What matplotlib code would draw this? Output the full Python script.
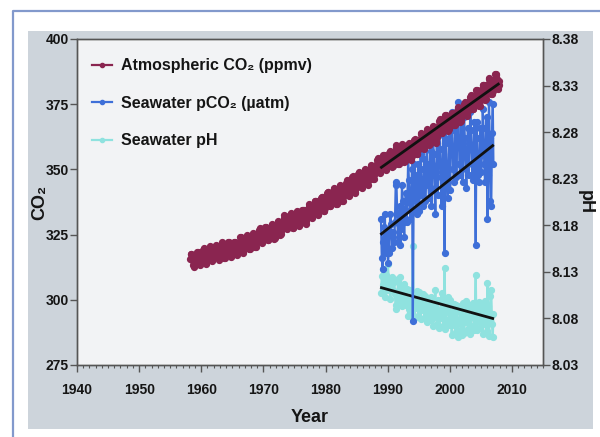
import numpy as np
import matplotlib
matplotlib.use("Agg")
import matplotlib.pyplot as plt
from matplotlib.patches import Rectangle
from matplotlib.lines import Line2D
from matplotlib.ticker import MultipleLocator, FixedLocator, FormatStrFormatter

plt.rcParams['font.family'] = ['Liberation Sans', 'DejaVu Sans']

# ---------------- data ----------------
# Atmospheric CO2 (Mauna Loa), monthly, starting March 1958
atm_start_year = 1958
atm_start_month = 3
atm_co2 = [
    315.7, 317.5, 317.5, 317.2, 315.9, 314.9, 313.2, 312.7, 313.3, 314.7,
    315.6, 316.4, 316.7, 317.7, 318.3, 318.2, 316.5, 314.8, 313.8, 313.3, 314.8, 315.6,
    316.4, 317.0, 317.6, 319.0, 320.0, 319.6, 318.2, 315.9, 314.2, 313.8, 315.0, 316.2,
    316.9, 317.7, 318.5, 319.5, 320.6, 319.8, 318.6, 316.8, 314.8, 315.4, 316.1, 317.0,
    317.9, 318.6, 319.7, 320.6, 321.0, 320.6, 319.6, 317.4, 316.3, 315.4, 316.7, 317.7,
    318.7, 319.1, 319.9, 321.4, 322.2, 321.5, 319.7, 317.8, 316.2, 316.0, 317.1, 318.3,
    319.6, 320.1, 320.8, 321.9, 322.3, 322.1, 320.3, 318.4, 316.8, 316.6, 317.6, 318.8,
    319.4, 320.4, 320.9, 322.1, 322.2, 321.9, 321.4, 318.8, 317.8, 317.3, 318.9, 319.4,
    320.6, 321.6, 322.4, 323.9, 324.0, 323.8, 322.4, 320.4, 318.6, 318.1, 319.8, 321.1,
    322.1, 322.5, 323.0, 324.4, 325.0, 324.1, 322.6, 320.9, 319.3, 319.3, 320.7, 322.0,
    322.6, 323.2, 323.9, 325.0, 325.6, 325.4, 324.1, 322.1, 320.3, 320.3, 321.3, 322.9,
    324.0, 324.4, 325.6, 326.7, 327.4, 326.7, 325.9, 323.7, 322.4, 321.8, 322.9, 324.1,
    325.1, 326.0, 326.9, 328.1, 328.1, 327.7, 326.4, 324.7, 323.1, 323.1, 324.0, 325.1,
    326.2, 326.7, 327.2, 327.8, 328.9, 328.6, 327.3, 325.5, 323.4, 323.6, 324.8, 326.0,
    326.8, 327.6, 327.8, 329.7, 330.1, 329.1, 328.1, 326.3, 324.9, 325.1, 326.5, 327.6,
    328.5, 329.6, 330.3, 331.5, 332.5, 332.1, 330.9, 329.3, 327.5, 327.2, 328.2, 328.6,
    329.4, 330.7, 331.5, 332.7, 333.1, 332.3, 331.2, 329.4, 327.4, 327.4, 328.5, 329.6,
    330.4, 331.4, 332.0, 333.3, 334.0, 333.6, 331.9, 330.1, 328.6, 328.3, 329.5, 330.8,
    331.8, 332.6, 333.5, 334.6, 334.6, 334.3, 333.1, 330.9, 329.3, 328.9, 330.3, 331.7,
    332.9, 333.4, 334.7, 336.1, 336.7, 336.3, 334.9, 332.8, 331.6, 331.2, 332.4, 333.9,
    335.0, 335.4, 336.6, 337.8, 338.0, 337.9, 336.5, 334.7, 332.8, 332.5, 333.9, 335.0,
    336.2, 336.8, 338.0, 338.9, 339.5, 339.3, 337.7, 336.1, 333.9, 333.9, 335.3, 336.7,
    338.0, 338.4, 340.1, 340.8, 341.5, 341.2, 339.6, 337.6, 335.9, 336.0, 337.1, 338.2,
    339.2, 340.5, 341.4, 342.5, 342.9, 342.3, 340.5, 338.4, 336.7, 336.9, 338.4, 339.6,
    340.8, 341.6, 342.7, 343.6, 344.1, 343.4, 342.1, 339.8, 338.0, 337.9, 339.3, 340.5,
    341.4, 342.5, 343.1, 344.9, 345.8, 345.3, 344.0, 342.4, 339.9, 340.0, 341.2, 343.0,
    343.7, 344.5, 345.3, 347.1, 347.4, 346.8, 345.4, 343.3, 341.1, 341.4, 343.0, 344.2,
    345.0, 346.0, 347.4, 348.4, 348.9, 348.3, 346.6, 344.7, 343.1, 342.8, 344.2, 345.6,
    346.3, 347.0, 347.9, 349.6, 350.2, 349.5, 347.9, 345.9, 344.9, 344.2, 345.7, 346.9,
    348.0, 348.5, 349.4, 351.0, 351.8, 351.3, 349.5, 348.1, 346.4, 346.4, 347.8, 349.0,
    350.4, 351.7, 352.2, 353.6, 354.2, 353.8, 352.4, 350.4, 348.7, 348.9, 350.1, 351.3,
    352.8, 353.1, 353.7, 355.4, 355.7, 355.1, 353.9, 351.7, 349.8, 350.0, 351.3, 352.5,
    353.7, 354.7, 355.4, 356.2, 357.2, 356.2, 354.8, 352.9, 351.0, 351.2, 352.8, 354.2,
    354.7, 355.8, 357.2, 358.6, 359.3, 358.2, 356.2, 354.0, 352.2, 352.2, 353.8, 355.0,
    356.0, 356.7, 357.8, 359.2, 359.7, 359.3, 357.0, 355.0, 353.0, 353.3, 354.2, 355.4,
    356.7, 357.2, 358.4, 359.5, 360.3, 359.6, 357.6, 355.5, 353.7, 354.0, 355.3, 356.8,
    358.4, 358.9, 360.0, 361.3, 361.7, 361.0, 359.6, 357.5, 355.8, 356.0, 357.6, 359.1,
    360.0, 361.0, 361.7, 363.5, 363.8, 363.3, 361.9, 359.5, 358.1, 357.8, 359.6, 360.7,
    362.1, 363.3, 364.1, 364.8, 365.5, 365.0, 363.7, 361.5, 359.5, 359.7, 360.8, 362.4,
    363.2, 364.1, 364.6, 366.4, 366.8, 365.7, 364.5, 362.6, 360.2, 360.8, 362.5, 364.3,
    365.3, 366.0, 367.2, 368.7, 369.4, 369.0, 367.8, 366.0, 364.0, 364.4, 365.5, 367.1,
    368.2, 369.1, 369.7, 371.0, 371.0, 370.3, 369.5, 366.9, 364.8, 365.4, 366.7, 368.1,
    369.3, 369.5, 370.6, 371.8, 371.6, 371.7, 369.9, 368.1, 367.0, 367.0, 368.4, 369.7,
    370.6, 371.5, 372.4, 373.4, 373.9, 373.2, 371.5, 369.6, 368.2, 368.5, 369.8, 371.2,
    372.5, 373.2, 374.1, 375.0, 375.8, 375.5, 374.0, 371.9, 370.8, 370.6, 372.3, 373.8,
    374.9, 375.6, 376.5, 377.7, 378.6, 378.3, 376.7, 374.4, 373.2, 373.2, 374.7, 376.0,
    377.0, 377.9, 378.9, 380.4, 380.6, 379.7, 377.5, 376.0, 374.3, 374.5, 376.2, 377.5,
    378.5, 379.7, 380.8, 382.3, 382.5, 382.2, 380.7, 378.7, 376.7, 377.0, 378.4, 380.1,
    381.4, 382.2, 382.7, 384.6, 385.0, 384.1, 382.5, 380.4, 378.9, 379.1, 380.2, 381.8,
    382.9, 383.9, 384.6, 386.5, 386.6, 386.1, 384.5, 382.0, 381.0, 381.1, 382.5, 384.0,
]

# Station ALOHA cruises: time, seawater pCO2 (uatm), seawater pH
hot_year = [
    1988.92,
    1989.05, 1989.17, 1989.30, 1989.42, 1989.55, 1989.67, 1989.80, 1989.92,
    1990.05, 1990.17, 1990.30, 1990.42, 1990.55, 1990.67, 1990.80, 1990.92,
    1991.05, 1991.17, 1991.30, 1991.42, 1991.55, 1991.67, 1991.80, 1991.92,
    1992.05, 1992.17, 1992.30, 1992.42, 1992.55, 1992.67, 1992.80, 1992.92,
    1993.05, 1993.17, 1993.30, 1993.42, 1993.55, 1993.67, 1993.80, 1993.92,
    1994.05, 1994.17, 1994.30, 1994.42, 1994.55, 1994.67, 1994.80, 1994.92,
    1995.05, 1995.17, 1995.30, 1995.42, 1995.55, 1995.67, 1995.80, 1995.92,
    1996.05, 1996.17, 1996.30, 1996.42, 1996.55, 1996.67, 1996.80, 1996.92,
    1997.05, 1997.17, 1997.30, 1997.42, 1997.55, 1997.67, 1997.80, 1997.92,
    1998.05, 1998.17, 1998.30, 1998.42, 1998.55, 1998.67, 1998.80, 1998.92,
    1999.05, 1999.17, 1999.30, 1999.42, 1999.55, 1999.67, 1999.80, 1999.92,
    2000.05, 2000.17, 2000.30, 2000.42, 2000.55, 2000.67, 2000.80, 2000.92,
    2001.05, 2001.17, 2001.30, 2001.42, 2001.55, 2001.67, 2001.80, 2001.92,
    2002.05, 2002.17, 2002.30, 2002.42, 2002.55, 2002.67, 2002.80, 2002.92,
    2003.05, 2003.17, 2003.30, 2003.42, 2003.55, 2003.67, 2003.80, 2003.92,
    2004.05, 2004.17, 2004.30, 2004.42, 2004.55, 2004.67, 2004.80, 2004.92,
    2005.05, 2005.17, 2005.30, 2005.42, 2005.55, 2005.67, 2005.80, 2005.92,
    2006.05, 2006.17, 2006.30, 2006.42, 2006.55, 2006.67, 2006.80, 2006.92,
    2007.02,
]
seawater_pco2 = [
    331,
    316, 312, 322, 328, 333, 318, 323, 326,
    314, 318, 326, 333, 329, 320, 326, 324,
    322, 330, 345, 344, 333, 322, 329, 336,
    321, 327, 344, 338, 330, 324, 335, 341,
    330, 338, 354, 346, 337, 331, 342, 350,
    292, 335, 352, 348, 338, 333, 345, 352,
    334, 340, 356, 350, 343, 336, 346, 354,
    338, 345, 360, 352, 344, 339, 350, 357,
    336, 348, 362, 356, 343, 333, 349, 360,
    340, 352, 365, 358, 347, 336, 352, 363,
    348, 318, 366, 360, 345, 339, 350, 362,
    342, 356, 372, 365, 350, 345, 358, 368,
    347, 360, 376, 368, 352, 348, 362, 372,
    345, 355, 370, 362, 350, 343, 358, 366,
    348, 360, 372, 365, 352, 346, 357, 368,
    350, 321, 368, 362, 348, 345, 355, 366,
    349, 358, 373, 366, 352, 345, 360, 370,
    331, 348, 376, 362, 338, 336, 364, 375,
    352,
]
seawater_ph = [
    8.107,
    8.126, 8.133, 8.116, 8.109, 8.103, 8.127, 8.114, 8.110,
    8.138, 8.122, 8.112, 8.101, 8.111, 8.124, 8.110, 8.118,
    8.120, 8.106, 8.090, 8.094, 8.104, 8.122, 8.108, 8.100,
    8.124, 8.111, 8.093, 8.098, 8.112, 8.117, 8.101, 8.094,
    8.112, 8.099, 8.083, 8.090, 8.104, 8.110, 8.095, 8.085,
    8.158, 8.103, 8.083, 8.091, 8.099, 8.109, 8.092, 8.082,
    8.108, 8.097, 8.079, 8.089, 8.094, 8.106, 8.090, 8.080,
    8.104, 8.091, 8.076, 8.084, 8.096, 8.101, 8.085, 8.078,
    8.103, 8.092, 8.072, 8.081, 8.094, 8.110, 8.088, 8.074,
    8.100, 8.088, 8.070, 8.080, 8.090, 8.107, 8.085, 8.072,
    8.090, 8.134, 8.069, 8.078, 8.093, 8.103, 8.087, 8.073,
    8.100, 8.080, 8.062, 8.073, 8.087, 8.096, 8.078, 8.065,
    8.094, 8.078, 8.060, 8.066, 8.088, 8.093, 8.074, 8.062,
    8.097, 8.082, 8.064, 8.076, 8.090, 8.099, 8.079, 8.069,
    8.094, 8.080, 8.063, 8.072, 8.089, 8.097, 8.081, 8.068,
    8.092, 8.127, 8.068, 8.076, 8.094, 8.098, 8.084, 8.070,
    8.093, 8.081, 8.063, 8.074, 8.088, 8.099, 8.078, 8.066,
    8.118, 8.093, 8.061, 8.078, 8.104, 8.110, 8.074, 8.060,
    8.085,
]

# Linear trend lines (end points)
atm_trend_year = [1989.0, 2007.8]
atm_trend_value = [350.8, 382.7]
pco2_trend_year = [1989.0, 2006.9]
pco2_trend_value = [325.3, 359.1]
ph_trend_year = [1989.0, 2006.9]
ph_trend_value = [8.113, 8.080]

labels = ["Atmospheric CO\u2082 (ppmv)", "Seawater pCO\u2082 (\u00b5atm)", "Seawater pH"]

# ---------------- styling ----------------
c_atm = '#8a2550'
c_pco2 = '#3e6fd8'
c_ph = '#8fe2df'
txt = '#151515'

fig = plt.figure(figsize=(6.0, 4.37), dpi=100)
W, H = 600.0, 437.0
fig.patches.append(Rectangle((28 / W, 1 - 429 / H), (593 - 28) / W, (429 - 31) / H,
                             transform=fig.transFigure, facecolor='#cdd4db',
                             edgecolor='none', zorder=-10))
fig.add_artist(Line2D([12.5 / W, 12.5 / W, 1.0], [0.0, 1 - 10.5 / H, 1 - 10.5 / H],
                      transform=fig.transFigure, color='#8299cc', lw=1.6, zorder=-5))

ax = fig.add_axes([77 / W, 1 - 365 / H, (543 - 77) / W, (365 - 39) / H])
ax2 = ax.twinx()
# pH axes below the CO2 axes
ax2.set_zorder(1)
ax.set_zorder(2)
ax.patch.set_visible(False)
ax2.patch.set_visible(True)
ax2.patch.set_facecolor('#f2f3f5')

n = len(atm_co2)
atm_time = atm_start_year + (atm_start_month - 1 + np.arange(n) + 0.5) / 12.0

ax2.plot(hot_year, seawater_ph, '-o', color=c_ph, lw=1.6, ms=4.2, mec=c_ph, zorder=2)
ax2.plot(ph_trend_year, ph_trend_value, color='#111111', lw=2.0, zorder=3)

ax.plot(hot_year, seawater_pco2, '-o', color=c_pco2, lw=1.6, ms=4.2, mec=c_pco2, zorder=2)
ax.plot(atm_time, atm_co2, '-o', color=c_atm, lw=1.6, ms=4.2, mec=c_atm, zorder=3)
ax.plot(atm_trend_year, atm_trend_value, color='#111111', lw=2.0, zorder=4)
ax.plot(pco2_trend_year, pco2_trend_value, color='#111111', lw=2.0, zorder=4)

ax.set_xlim(1940, 2015)
ax.set_ylim(275, 400)
ax2.set_ylim(8.03, 8.38)
ax.xaxis.set_major_locator(MultipleLocator(10))
ax.xaxis.set_minor_locator(MultipleLocator(1))
ax.yaxis.set_major_locator(MultipleLocator(25))
ax2.yaxis.set_major_locator(FixedLocator([8.03, 8.08, 8.13, 8.18, 8.23, 8.28, 8.33, 8.38]))
ax2.yaxis.set_major_formatter(FormatStrFormatter('%.2f'))

for a in (ax, ax2):
    for s in a.spines.values():
        s.set_color('#555555')
        s.set_linewidth(1.0)
    a.tick_params(which='major', direction='out', length=5, width=1.0, color='#555555',
                  labelsize=10, labelcolor=txt)
ax.tick_params(axis='x', which='minor', direction='out', length=2.5, width=0.8, color='#555555')
ax.tick_params(axis='x', pad=8)
ax.tick_params(axis='y', pad=1)
ax2.tick_params(axis='y', pad=1)
for lab in ax.get_xticklabels() + ax.get_yticklabels() + ax2.get_yticklabels():
    lab.set_fontweight('bold')

ax.set_xlabel('Year', fontsize=13, fontweight='bold', color=txt)
ax.set_ylabel('CO\u2082', fontsize=13, fontweight='bold', color=txt)
ax2.set_ylabel('pH', fontsize=13, fontweight='bold', color=txt, rotation=270, va='center')
ax.xaxis.set_label_coords(0.5, (365 - 409) / 326.0)
ax.yaxis.set_label_coords((48 - 77) / 466.0, 0.5)
ax2.yaxis.set_label_coords((585 - 77) / 466.0, 0.5)

handles = [
    Line2D([], [], color=c_atm, lw=1.6, marker='o', ms=3),
    Line2D([], [], color=c_pco2, lw=1.6, marker='o', ms=3),
    Line2D([], [], color=c_ph, lw=1.6, marker='o', ms=3),
]
leg = ax.legend(handles, labels, loc='upper left', bbox_to_anchor=(0.018, 0.96),
                frameon=False, fontsize=11.5, handlelength=1.25, handletextpad=0.6,
                labelspacing=1.4, borderaxespad=0.0)
for t in leg.get_texts():
    t.set_fontweight('bold')
    t.set_color(txt)

fig.savefig('out.png', dpi=100)
